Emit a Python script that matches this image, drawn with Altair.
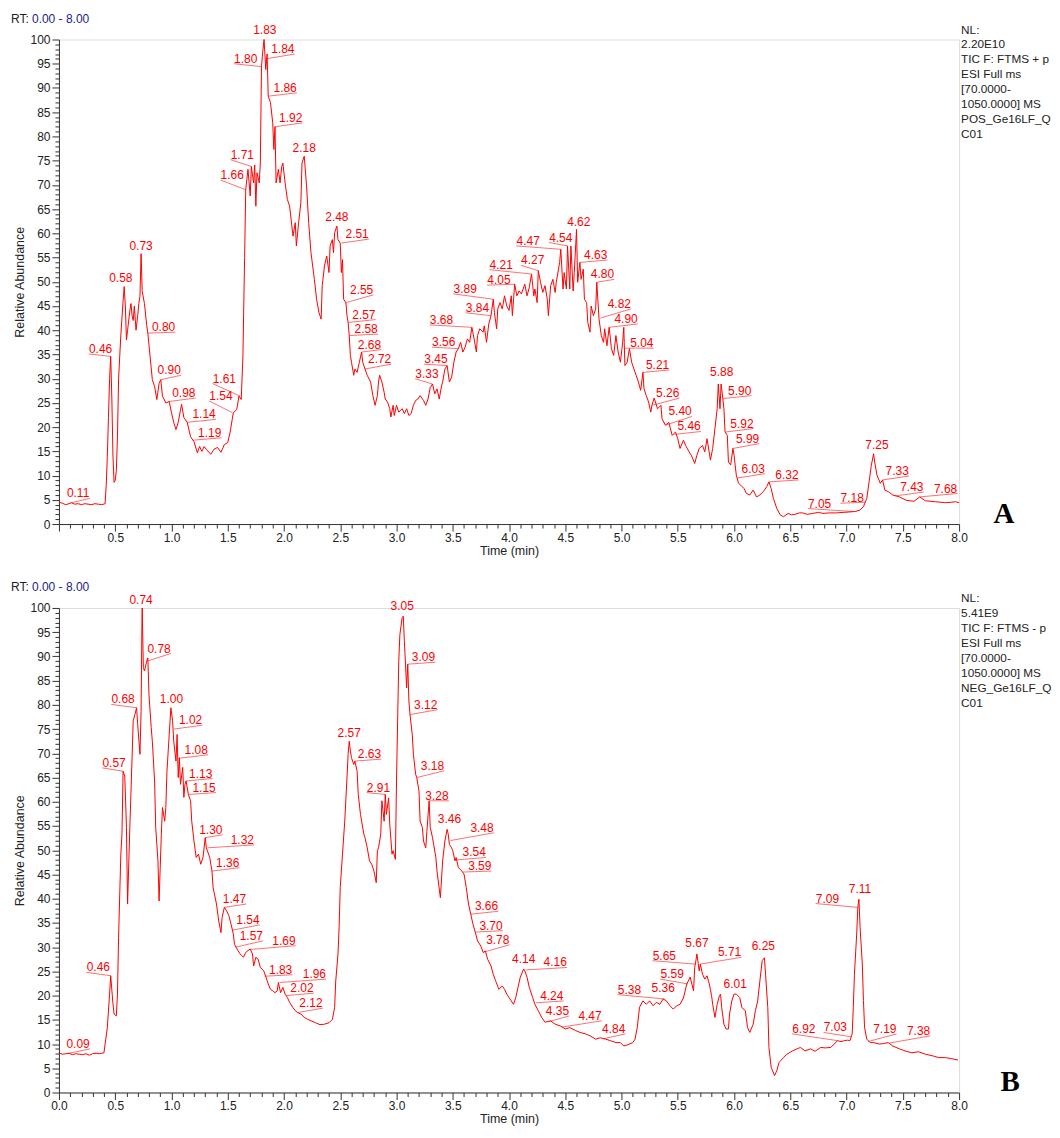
import altair as alt
import pandas as pd

# ---------------- Panel A (positive mode) trace ----------------
A_time = [0.00, 0.03, 0.06, 0.09, 0.11, 0.14, 0.17, 0.20, 0.23, 0.26, 0.29, 0.32, 0.35, 0.38, 0.41,
          0.42, 0.43, 0.44, 0.45, 0.46, 0.47, 0.48, 0.49, 0.50, 0.51, 0.52, 0.53, 0.55, 0.57, 0.58,
          0.59, 0.60, 0.61, 0.63, 0.64, 0.65, 0.66, 0.67, 0.685, 0.70, 0.71, 0.72, 0.73, 0.74, 0.76,
          0.78, 0.79, 0.81, 0.83, 0.85, 0.87, 0.89, 0.905, 0.92, 0.95, 0.98, 1.00, 1.02, 1.04, 1.06,
          1.08, 1.09, 1.11, 1.14, 1.17, 1.20, 1.23, 1.25, 1.27, 1.29, 1.31, 1.35, 1.38, 1.41, 1.44,
          1.47, 1.50, 1.52, 1.54, 1.55, 1.58, 1.60, 1.62, 1.635, 1.65, 1.66, 1.68, 1.70, 1.71, 1.73,
          1.74, 1.75, 1.76, 1.78, 1.79, 1.80, 1.81, 1.823, 1.838, 1.85, 1.86, 1.88, 1.90, 1.91, 1.92,
          1.93, 1.95, 1.965, 1.98, 1.99, 2.01, 2.03, 2.05, 2.07, 2.08, 2.10, 2.11, 2.13, 2.15, 2.16,
          2.18, 2.20, 2.22, 2.24, 2.27, 2.29, 2.31, 2.33, 2.34, 2.36, 2.38, 2.40, 2.41, 2.43, 2.44,
          2.45, 2.47, 2.48, 2.50, 2.51, 2.52, 2.53, 2.55, 2.56, 2.57, 2.58, 2.59, 2.60, 2.62, 2.63,
          2.65, 2.67, 2.69, 2.70, 2.72, 2.74, 2.77, 2.79, 2.81, 2.83, 2.84, 2.85, 2.87, 2.89, 2.90,
          2.92, 2.94, 2.95, 2.97, 2.98, 3.00, 3.02, 3.05, 3.07, 3.09, 3.11, 3.13, 3.15, 3.17, 3.19,
          3.21, 3.24, 3.26, 3.28, 3.30, 3.32, 3.34, 3.36, 3.38, 3.40, 3.41, 3.43, 3.45, 3.47, 3.49,
          3.51, 3.53, 3.55, 3.57, 3.59, 3.61, 3.63, 3.65, 3.67, 3.69, 3.71, 3.72, 3.74, 3.77, 3.78,
          3.80, 3.82, 3.84, 3.86, 3.87, 3.89, 3.90, 3.92, 3.94, 3.96, 3.98, 4.00, 4.02, 4.03, 4.05,
          4.07, 4.09, 4.11, 4.14, 4.16, 4.18, 4.20, 4.22, 4.23, 4.25, 4.26, 4.28, 4.30, 4.32, 4.34,
          4.35, 4.37, 4.39, 4.41, 4.42, 4.45, 4.46, 4.48, 4.49, 4.51, 4.52, 4.54, 4.55, 4.57, 4.58,
          4.60, 4.61, 4.63, 4.64, 4.66, 4.67, 4.69, 4.70, 4.72, 4.73, 4.75, 4.77, 4.78, 4.80, 4.82,
          4.84, 4.85, 4.87, 4.89, 4.91, 4.93, 4.95, 4.97, 4.99, 5.01, 5.02, 5.03, 5.05, 5.07, 5.09,
          5.11, 5.13, 5.15, 5.17, 5.19, 5.20, 5.22, 5.24, 5.26, 5.27, 5.29, 5.32, 5.35, 5.36, 5.39,
          5.42, 5.45, 5.48, 5.50, 5.52, 5.55, 5.57, 5.60, 5.62, 5.65, 5.67, 5.69, 5.72, 5.74, 5.76,
          5.79, 5.81, 5.83, 5.85, 5.86, 5.875, 5.885, 5.90, 5.91, 5.92, 5.94, 5.95, 5.97, 5.99, 6.00,
          6.02, 6.04, 6.06, 6.09, 6.11, 6.14, 6.17, 6.20, 6.23, 6.26, 6.29, 6.31, 6.33, 6.35, 6.38,
          6.41, 6.44, 6.48, 6.51, 6.54, 6.58, 6.61, 6.65, 6.70, 6.75, 6.79, 6.85, 6.91, 6.97, 7.03,
          7.08, 7.12, 7.15, 7.18, 7.20, 7.22, 7.24, 7.25, 7.27, 7.30, 7.32, 7.34, 7.37, 7.41, 7.44,
          7.47, 7.53, 7.60, 7.65, 7.70, 7.75, 7.79, 7.84, 7.88, 7.93, 7.97, 8.00]
A_abund = [4.5, 4.3, 4.0, 4.2, 4.4, 4.1, 4.2, 4.0, 4.2, 4.1, 4.0, 4.2, 4.1, 4.0, 4.2,
           8.0, 14.0, 22.0, 30.0, 34.6, 26.0, 14.0, 8.6, 9.0, 11.0, 18.0, 30.0, 39.0, 46.0, 49.0,
           45.0, 38.0, 40.0, 44.0, 45.5, 43.0, 42.0, 45.0, 40.0, 43.0, 45.5, 47.0, 55.8, 48.0, 45.5,
           41.0, 39.4, 34.6, 29.8, 28.4, 25.7, 29.0, 29.8, 26.4, 25.0, 25.3, 23.0, 21.0, 19.5, 21.0,
           23.5, 24.7, 22.0, 21.0, 18.0, 17.0, 14.7, 16.0, 15.0, 16.0, 15.4, 14.4, 15.5, 15.8, 14.8,
           16.4, 16.8, 18.8, 21.6, 23.0, 23.6, 26.4, 25.7, 34.6, 55.0, 69.0, 73.2, 67.7, 73.8, 70.4,
           74.1, 65.6, 72.5, 70.4, 74.5, 94.4, 97.2, 100.0, 93.8, 97.0, 88.3, 87.0, 82.8, 77.3, 82.0,
           70.4, 73.2, 70.4, 73.8, 74.5, 70.4, 67.0, 65.6, 61.5, 59.4, 62.2, 57.4, 62.2, 66.3, 74.5,
           75.9, 70.0, 62.0, 56.0, 50.5, 46.4, 43.7, 42.3, 49.2, 53.3, 55.3, 51.9, 57.4, 58.7, 56.0,
           60.1, 61.5, 58.7, 58.0, 51.9, 54.6, 46.4, 45.7, 43.0, 41.6, 38.9, 34.8, 33.4, 30.7, 32.0,
           31.3, 33.4, 35.5, 33.4, 32.0, 30.7, 29.3, 26.5, 24.5, 26.5, 29.3, 30.7, 29.3, 27.2, 25.8,
           25.2, 23.8, 22.1, 24.5, 22.4, 24.5, 23.1, 23.8, 22.8, 23.8, 22.4, 22.8, 24.5, 25.5, 25.8,
           26.5, 25.5, 24.5, 25.8, 28.2, 28.9, 26.9, 27.9, 25.8, 28.5, 29.3, 32.0, 32.7, 29.3, 30.3,
           33.4, 35.5, 36.2, 37.5, 35.5, 36.5, 38.2, 37.5, 40.6, 38.2, 35.5, 38.9, 40.3, 39.6, 40.9,
           37.5, 41.3, 43.0, 46.4, 43.7, 40.3, 44.4, 45.7, 44.4, 47.1, 45.0, 44.1, 47.1, 43.0, 49.5,
           47.1, 48.1, 47.5, 49.5, 47.1, 48.8, 51.6, 47.1, 48.5, 45.7, 52.3, 49.9, 47.8, 49.2, 46.4,
           43.0, 49.2, 50.5, 47.8, 49.9, 54.0, 56.7, 48.5, 51.9, 48.5, 57.4, 48.5, 57.4, 48.1, 51.9,
           60.8, 49.9, 54.0, 50.5, 52.6, 46.4, 45.7, 41.6, 39.6, 45.0, 43.0, 44.4, 49.9, 42.3, 38.9,
           37.5, 40.3, 36.8, 40.6, 36.2, 34.8, 38.9, 35.5, 33.4, 37.5, 40.6, 32.7, 33.4, 36.2, 33.4,
           32.0, 30.7, 29.3, 27.6, 31.3, 27.9, 26.5, 25.2, 23.1, 24.5, 26.0, 23.8, 24.5, 21.7, 20.4,
           21.0, 18.3, 19.0, 17.6, 15.6, 17.3, 16.2, 14.9, 14.2, 12.5, 14.2, 15.6, 16.2, 14.9, 17.6,
           13.2, 15.6, 19.7, 23.8, 28.9, 23.8, 28.9, 25.9, 23.8, 19.0, 18.3, 12.8, 12.2, 15.6, 14.2,
           10.1, 8.4, 8.0, 7.3, 6.3, 6.0, 7.0, 5.6, 6.0, 6.7, 7.7, 8.7, 7.3, 5.3, 3.2,
           1.9, 1.5, 2.2, 1.9, 2.0, 2.3, 2.3, 2.0, 2.2, 2.4, 2.2, 2.3, 2.3, 2.4, 2.5,
           2.6, 2.9, 3.6, 5.3, 8.7, 12.1, 14.5, 12.8, 10.1, 8.4, 9.1, 7.0, 6.7, 6.0, 5.8,
           5.6, 4.9, 4.7, 5.6, 4.8, 4.7, 4.6, 4.5, 4.4, 4.5, 4.6, 4.4]

# ---------------- Panel B (negative mode) trace ----------------
B_time = [0.00, 0.03, 0.06, 0.09, 0.12, 0.15, 0.18, 0.21, 0.24, 0.27, 0.30, 0.33, 0.36, 0.40, 0.43,
          0.45, 0.46, 0.48, 0.49, 0.51, 0.52, 0.53, 0.55, 0.56, 0.57, 0.585, 0.60, 0.61, 0.63, 0.65,
          0.66, 0.675, 0.69, 0.70, 0.72, 0.73, 0.737, 0.74, 0.75, 0.76, 0.78, 0.79, 0.80, 0.82, 0.83,
          0.85, 0.86, 0.88, 0.89, 0.91, 0.92, 0.94, 0.95, 0.96, 0.98, 0.995, 1.01, 1.02, 1.04, 1.05,
          1.06, 1.07, 1.08, 1.10, 1.11, 1.12, 1.13, 1.15, 1.17, 1.18, 1.20, 1.22, 1.24, 1.26, 1.28,
          1.30, 1.31, 1.34, 1.36, 1.37, 1.40, 1.42, 1.44, 1.45, 1.47, 1.49, 1.51, 1.53, 1.55, 1.56,
          1.59, 1.61, 1.64, 1.66, 1.68, 1.70, 1.72, 1.73, 1.75, 1.77, 1.79, 1.82, 1.84, 1.86, 1.88,
          1.90, 1.92, 1.94, 1.95, 1.97, 1.99, 2.01, 2.03, 2.05, 2.08, 2.10, 2.12, 2.15, 2.18, 2.21,
          2.24, 2.28, 2.32, 2.36, 2.40, 2.43, 2.45, 2.46, 2.48, 2.49, 2.50, 2.52, 2.54, 2.56, 2.57,
          2.58, 2.59, 2.60, 2.62, 2.63, 2.65, 2.66, 2.68, 2.69, 2.71, 2.72, 2.74, 2.76, 2.78, 2.80,
          2.82, 2.83, 2.84, 2.86, 2.87, 2.89, 2.90, 2.91, 2.93, 2.94, 2.96, 2.97, 2.99, 3.00, 3.02,
          3.03, 3.05, 3.06, 3.07, 3.08, 3.09, 3.10, 3.11, 3.12, 3.14, 3.15, 3.17, 3.18, 3.20, 3.21,
          3.23, 3.24, 3.26, 3.27, 3.29, 3.30, 3.32, 3.33, 3.35, 3.36, 3.38, 3.39, 3.41, 3.43, 3.45,
          3.46, 3.47, 3.49, 3.50, 3.52, 3.53, 3.55, 3.57, 3.60, 3.62, 3.64, 3.66, 3.68, 3.70, 3.72,
          3.75, 3.77, 3.79, 3.81, 3.84, 3.86, 3.88, 3.91, 3.94, 3.96, 3.98, 4.00, 4.02, 4.04, 4.06,
          4.08, 4.10, 4.13, 4.14, 4.16, 4.18, 4.21, 4.23, 4.26, 4.29, 4.32, 4.37, 4.41, 4.46, 4.50,
          4.54, 4.59, 4.63, 4.68, 4.72, 4.77, 4.81, 4.86, 4.90, 4.95, 4.99, 5.02, 5.05, 5.10, 5.12,
          5.14, 5.16, 5.19, 5.22, 5.25, 5.28, 5.31, 5.34, 5.37, 5.40, 5.43, 5.46, 5.49, 5.52, 5.55,
          5.58, 5.61, 5.64, 5.65, 5.66, 5.67, 5.69, 5.70, 5.72, 5.74, 5.76, 5.78, 5.80, 5.81, 5.83,
          5.85, 5.87, 5.88, 5.89, 5.91, 5.93, 5.95, 5.96, 5.98, 6.00, 6.02, 6.05, 6.07, 6.10, 6.12,
          6.14, 6.17, 6.19, 6.21, 6.23, 6.25, 6.27, 6.28, 6.30, 6.31, 6.33, 6.36, 6.38, 6.40, 6.44,
          6.47, 6.52, 6.56, 6.59, 6.63, 6.68, 6.72, 6.77, 6.81, 6.86, 6.89, 6.92, 6.95, 6.98, 7.01,
          7.03, 7.05, 7.06, 7.07, 7.09, 7.10, 7.11, 7.12, 7.14, 7.15, 7.16, 7.18, 7.21, 7.24, 7.29,
          7.33, 7.37, 7.41, 7.47, 7.53, 7.58, 7.64, 7.70, 7.76, 7.82, 7.88, 7.93, 7.99]
B_abund = [8.2, 7.9, 8.0, 8.1, 7.8, 8.0, 7.9, 7.8, 8.0, 7.7, 8.0, 8.1, 8.0, 8.2, 13.4,
           20.3, 24.1, 18.3, 16.2, 15.8, 20.3, 32.0, 49.2, 53.3, 66.3, 65.3, 54.7, 38.9, 54.7, 69.1,
           76.7, 78.0, 79.4, 75.9, 69.8, 78.7, 95.9, 100.0, 87.7, 87.0, 89.0, 89.7, 82.2, 75.3, 72.5,
           64.3, 54.7, 47.8, 39.5, 53.3, 58.8, 56.0, 58.8, 66.3, 73.9, 79.4, 76.7, 72.5, 68.4, 73.9,
           65.0, 69.1, 63.6, 67.1, 60.9, 63.6, 64.3, 61.5, 60.2, 56.0, 51.9, 48.5, 49.2, 47.1, 48.5,
           52.6, 50.5, 48.5, 45.7, 42.3, 38.9, 35.4, 33.0, 36.1, 38.2, 37.5, 36.5, 34.7, 32.7, 30.6,
           29.3, 28.6, 27.9, 28.9, 29.3, 29.6, 28.6, 26.1, 27.9, 27.5, 25.8, 25.1, 23.8, 22.4, 21.3,
           21.0, 20.6, 21.0, 22.7, 20.6, 21.7, 20.3, 19.6, 18.6, 17.5, 16.9, 16.5, 16.2, 15.5, 15.1,
           14.8, 14.4, 14.0, 14.1, 14.4, 15.1, 17.5, 23.0, 28.6, 34.1, 42.3, 49.2, 56.0, 65.0, 69.8,
           72.5, 70.5, 69.1, 67.7, 68.4, 66.3, 61.5, 57.4, 56.0, 53.3, 52.6, 50.5, 47.8, 47.1, 45.7,
           43.3, 49.9, 50.5, 53.3, 60.2, 56.0, 61.5, 57.4, 60.8, 55.4, 49.2, 49.9, 48.1, 64.3, 89.0,
           94.5, 98.0, 98.3, 93.1, 88.4, 83.5, 88.4, 80.8, 78.0, 73.9, 69.8, 65.7, 65.0, 62.2, 56.0,
           54.7, 51.9, 50.5, 53.9, 60.2, 54.7, 52.6, 51.2, 48.5, 45.7, 42.0, 40.2, 47.8, 51.9, 54.3,
           53.3, 51.2, 50.5, 49.9, 47.8, 48.5, 46.4, 46.0, 45.1, 42.3, 38.9, 36.8, 34.7, 33.1, 31.3,
           30.2, 28.9, 29.2, 27.5, 26.1, 24.4, 23.1, 21.3, 22.0, 21.3, 20.3, 19.6, 18.9, 18.2, 19.6,
           21.7, 23.8, 25.5, 25.1, 23.8, 21.7, 19.6, 18.2, 16.9, 15.5, 14.5, 14.8, 14.1, 13.7, 13.1,
           13.4, 12.8, 12.4, 12.1, 11.7, 11.0, 11.3, 11.0, 10.7, 10.3, 10.3, 9.6, 9.8, 10.3, 11.0,
           13.4, 17.6, 18.9, 18.2, 18.9, 17.9, 18.6, 18.2, 19.3, 18.9, 17.9, 17.2, 17.9, 18.2, 19.5,
           22.4, 23.8, 21.0, 25.8, 27.1, 28.6, 25.1, 26.5, 24.4, 23.4, 24.1, 22.4, 20.0, 18.2, 15.5,
           18.2, 20.0, 20.3, 17.5, 14.1, 13.1, 13.1, 16.2, 18.9, 20.3, 20.3, 19.6, 17.5, 16.9, 13.4,
           12.4, 14.1, 16.9, 18.9, 23.1, 27.2, 27.8, 24.4, 17.5, 9.3, 5.2, 3.5, 4.5, 6.2, 7.2,
           7.9, 8.6, 9.0, 9.3, 8.6, 9.0, 8.5, 9.3, 9.2, 9.3, 10.0, 10.7, 10.5, 10.7, 10.8,
           10.7, 12.1, 17.6, 24.4, 32.7, 38.2, 39.9, 34.1, 26.5, 19.0, 13.4, 11.0, 10.3, 10.3, 10.0,
           10.1, 10.3, 9.6, 9.0, 8.5, 8.2, 8.4, 7.9, 7.6, 7.2, 7.2, 7.0, 6.7]

# ---------------- Peak annotations: text, peak (time, abundance), label anchor (time, abundance) ----------------
A_lab_text = ["0.11", "0.46", "0.58", "0.73", "0.80", "0.90", "0.98", "1.14", "1.19", "1.54", "1.61",
              "1.66", "1.71", "1.80", "1.83", "1.84", "1.86", "1.92", "2.18", "2.48", "2.51", "2.55",
              "2.57", "2.58", "2.68", "2.72", "3.33", "3.45", "3.56", "3.68", "3.84", "3.89", "4.05",
              "4.21", "4.27", "4.47", "4.54", "4.62", "4.63", "4.80", "4.82", "4.90", "5.04", "5.21",
              "5.26", "5.40", "5.46", "5.88", "5.90", "5.92", "5.99", "6.03", "6.32", "7.05", "7.18",
              "7.25", "7.33", "7.43", "7.68"]
A_peak_t = [0.11, 0.46, 0.58, 0.73, 0.79, 0.905, 0.98, 1.14, 1.19, 1.54, 1.61,
            1.66, 1.71, 1.80, 1.823, 1.838, 1.86, 1.92, 2.18, 2.47, 2.51, 2.55,
            2.57, 2.58, 2.69, 2.72, 3.32, 3.45, 3.55, 3.67, 3.84, 3.86, 4.05,
            4.20, 4.26, 4.46, 4.52, 4.60, 4.63, 4.78, 4.81, 4.89, 5.02, 5.19,
            5.27, 5.39, 5.47, 5.88, 5.90, 5.925, 5.99, 6.03, 6.31, 7.05, 7.17,
            7.24, 7.32, 7.43, 7.65]
A_peak_v = [4.4, 34.6, 49.0, 55.8, 39.4, 29.8, 25.3, 21.0, 17.3, 23.0, 26.4,
            69.0, 73.8, 94.4, 100.0, 96.0, 88.3, 82.0, 75.9, 61.5, 58.0, 45.7,
            41.6, 38.9, 35.5, 32.0, 28.9, 32.7, 36.2, 40.6, 43.0, 46.4, 49.5,
            51.6, 52.3, 56.7, 57.4, 60.8, 54.0, 49.9, 42.5, 40.6, 36.3, 31.3,
            24.5, 20.4, 18.5, 28.9, 25.9, 19.0, 15.6, 9.5, 8.7, 2.6, 4.5,
            14.5, 9.1, 5.8, 5.6]
A_lab_t = [0.17, 0.37, 0.55, 0.73, 0.93, 0.98, 1.11, 1.29, 1.34, 1.44, 1.47,
           1.54, 1.63, 1.66, 1.83, 1.99, 2.01, 2.06, 2.18, 2.47, 2.65, 2.69,
           2.71, 2.73, 2.76, 2.85, 3.27, 3.35, 3.42, 3.40, 3.72, 3.61, 3.91,
           3.93, 4.21, 4.17, 4.46, 4.62, 4.77, 4.83, 4.98, 5.04, 5.18, 5.32,
           5.41, 5.52, 5.60, 5.89, 6.05, 6.07, 6.12, 6.17, 6.47, 6.76, 7.05,
           7.27, 7.45, 7.58, 7.88]
A_lab_v = [5.3, 35.1, 49.7, 56.4, 39.6, 30.7, 26.0, 21.6, 17.8, 25.4, 29.0,
           71.0, 75.2, 95.0, 101.0, 97.0, 89.0, 82.8, 76.5, 62.3, 58.8, 47.3,
           42.2, 39.2, 36.0, 33.0, 30.0, 33.0, 36.5, 41.1, 43.6, 47.5, 49.3,
           52.5, 53.4, 57.4, 58.1, 61.4, 54.5, 50.5, 44.4, 41.3, 36.3, 31.8,
           26.0, 22.2, 19.1, 30.3, 26.5, 19.7, 16.6, 10.4, 9.1, 3.2, 4.3,
           15.2, 9.9, 6.6, 6.3]

B_lab_text = ["0.09", "0.46", "0.57", "0.68", "0.74", "0.78", "1.00", "1.02", "1.08", "1.13", "1.15",
              "1.30", "1.32", "1.36", "1.47", "1.54", "1.57", "1.69", "1.83", "1.96", "2.02", "2.12",
              "2.57", "2.63", "2.91", "3.05", "3.09", "3.12", "3.18", "3.28", "3.46", "3.48", "3.54",
              "3.59", "3.66", "3.70", "3.78", "4.14", "4.16", "4.24", "4.35", "4.47", "4.84", "5.38",
              "5.36", "5.59", "5.65", "5.67", "5.71", "6.01", "6.25", "6.92", "7.03", "7.09", "7.11",
              "7.19", "7.38"]
B_peak_t = [0.09, 0.46, 0.57, 0.69, 0.74, 0.78, 0.995, 1.02, 1.075, 1.13, 1.15,
            1.30, 1.32, 1.36, 1.47, 1.54, 1.57, 1.69, 1.83, 1.96, 2.02, 2.12,
            2.58, 2.63, 2.90, 3.05, 3.10, 3.12, 3.18, 3.29, 3.45, 3.48, 3.53,
            3.59, 3.66, 3.70, 3.78, 4.13, 4.15, 4.24, 4.35, 4.47, 4.84, 5.38,
            5.36, 5.59, 5.655, 5.67, 5.70, 6.01, 6.26, 6.92, 7.04, 7.10, 7.11,
            7.19, 7.38]
B_peak_v = [8.1, 24.1, 66.3, 79.4, 100.0, 89.0, 79.4, 75.0, 69.0, 64.3, 61.5,
            52.6, 50.5, 45.7, 38.2, 33.5, 30.0, 29.5, 24.0, 22.7, 20.0, 16.5,
            72.5, 68.4, 61.5, 98.3, 88.4, 78.0, 65.0, 60.2, 54.3, 52.0, 48.0,
            45.5, 36.8, 33.1, 29.0, 25.5, 25.3, 18.5, 14.6, 13.5, 11.1, 19.3,
            19.5, 22.4, 26.5, 28.6, 26.5, 20.3, 27.8, 10.7, 11.5, 38.2, 39.9,
            10.5, 10.2]
B_lab_t = [0.17, 0.35, 0.49, 0.57, 0.73, 0.89, 1.00, 1.17, 1.22, 1.26, 1.29,
           1.35, 1.63, 1.50, 1.56, 1.68, 1.71, 2.00, 1.97, 2.27, 2.16, 2.24,
           2.58, 2.76, 2.84, 3.05, 3.24, 3.26, 3.32, 3.36, 3.47, 3.76, 3.69,
           3.74, 3.80, 3.84, 3.90, 4.13, 4.41, 4.38, 4.43, 4.72, 4.93, 5.07,
           5.37, 5.45, 5.38, 5.67, 5.96, 6.01, 6.26, 6.62, 6.90, 6.83, 7.12,
           7.34, 7.64]
B_lab_v = [9.0, 24.8, 67.0, 80.1, 100.7, 90.6, 80.2, 75.8, 69.7, 64.8, 61.9,
           53.2, 51.1, 46.4, 38.9, 34.6, 31.3, 30.3, 24.3, 23.4, 20.5, 17.4,
           73.1, 68.8, 61.9, 99.3, 88.8, 79.0, 66.4, 60.2, 55.4, 53.6, 48.5,
           45.7, 37.4, 33.4, 30.5, 26.5, 25.8, 18.9, 15.8, 14.8, 12.1, 20.2,
           20.5, 23.4, 27.2, 29.9, 27.9, 21.3, 29.1, 12.1, 12.4, 39.0, 40.9,
           12.1, 11.7]

# ---------------- Header / info texts ----------------
RT_prefix = "RT:"
RT_range = "0.00 - 8.00"
A_info = ["NL:", "2.20E10", "TIC F: FTMS + p", "ESI Full ms", "[70.0000-", "1050.0000]  MS",
          "POS_Ge16LF_Q", "C01"]
B_info = ["NL:", "5.41E9", "TIC F: FTMS - p", "ESI Full ms", "[70.0000-", "1050.0000]  MS",
          "NEG_Ge16LF_Q", "C01"]

x_tick_values = [round(i * 0.1, 1) for i in range(0, 81)]
y_tick_values = list(range(0, 101))

W, H = 901, 485
SANS = "Liberation Sans, Arial, Helvetica, sans-serif"
RED = "#ff0000"
AXIS_COLOR = "#333333"


def make_panel(times, abund, lab_text, peak_t, peak_v, lab_t, lab_v, info, letter, letter_dx, hide_zero):
    trace = pd.DataFrame({"t": times, "v": abund, "i": list(range(len(times)))})
    labs = pd.DataFrame({"text": lab_text, "pt": peak_t, "pv": peak_v, "lt": lab_t, "lv": lab_v})

    major_x = "abs(datum.value * 2 - round(datum.value * 2)) < 0.001"
    if hide_zero:
        x_label_expr = f"(datum.value > 0.05 && {major_x}) ? format(datum.value, '.1f') : ''"
    else:
        x_label_expr = f"{major_x} ? format(datum.value, '.1f') : ''"
    major_y = "datum.value % 5 == 0"

    xaxis = alt.Axis(values=x_tick_values, labelExpr=x_label_expr, grid=False,
                     tickSize={"condition": {"test": major_x, "value": 7}, "value": 4},
                     labelOverlap=False, labelFlush=False, labelPadding=1,
                     labelFont=SANS, labelFontSize=12, labelColor="#222222",
                     domainColor=AXIS_COLOR, tickColor=AXIS_COLOR,
                     titleFont=SANS, titleFontSize=12.5, titleFontWeight="normal",
                     titleColor="#222222", titlePadding=1)
    yaxis = alt.Axis(values=y_tick_values, labelExpr=f"{major_y} ? datum.value : ''", grid=False,
                     tickSize={"condition": {"test": major_y, "value": 7}, "value": 4},
                     labelOverlap=False, labelFlush=False, labelPadding=2,
                     labelFont=SANS, labelFontSize=12, labelColor="#222222",
                     domainColor=AXIS_COLOR, tickColor=AXIS_COLOR,
                     titleFont=SANS, titleFontSize=12.5, titleFontWeight="normal",
                     titleColor="#222222", titlePadding=3)
    xs = alt.Scale(domain=[0, 8], nice=False, zero=False)
    ys = alt.Scale(domain=[0, 100], nice=False)

    line = alt.Chart(trace).mark_line(color=RED, strokeWidth=1).encode(
        x=alt.X("t:Q", scale=xs, axis=xaxis, title="Time (min)"),
        y=alt.Y("v:Q", scale=ys, axis=yaxis, title="Relative Abundance"),
        order="i:Q",
    )
    leaders = alt.Chart(labs).transform_filter(
        "abs(datum.lt - datum.pt) >= 0.03"
    ).transform_calculate(
        ex="datum.lt + (datum.lt > datum.pt ? 0.105 : -0.105)"
    ).mark_rule(color=RED, strokeWidth=0.8, opacity=0.7).encode(
        x=alt.X("pt:Q", scale=xs, axis=xaxis, title="Time (min)"),
        y=alt.Y("pv:Q", scale=ys, axis=yaxis, title="Relative Abundance"),
        x2="ex:Q", y2="lv:Q",
    )
    texts = alt.Chart(labs).mark_text(
        color=RED, font=SANS, fontSize=12, baseline="alphabetic", align="center", dy=-1
    ).encode(
        x=alt.X("lt:Q", scale=xs, axis=xaxis, title="Time (min)"),
        y=alt.Y("lv:Q", scale=ys, axis=yaxis, title="Relative Abundance"),
        text="text:N",
    )
    rt1 = alt.Chart(pd.DataFrame({"s": [RT_prefix]})).mark_text(
        font=SANS, fontSize=12, color="#222222", align="left", baseline="middle"
    ).encode(x=alt.value(-48), y=alt.value(-21), text="s:N")
    rt2 = alt.Chart(pd.DataFrame({"s": [RT_range]})).mark_text(
        font=SANS, fontSize=12, color="#1c1c8c", align="left", baseline="middle"
    ).encode(x=alt.value(-27), y=alt.value(-21), text="s:N")
    nl = alt.Chart(pd.DataFrame({"s": ["\n".join(info)]})).mark_text(
        font=SANS, fontSize=11.8, color="#222222", align="left", baseline="top",
        lineBreak="\n", lineHeight=15
    ).encode(x=alt.value(W + 2), y=alt.value(-15), text="s:N")
    let = alt.Chart(pd.DataFrame({"s": [letter]})).mark_text(
        font="Liberation Serif, Times New Roman, serif", fontSize=29, fontWeight="bold",
        color="#000000", align="center", baseline="alphabetic"
    ).encode(x=alt.value(W + letter_dx), y=alt.value(H - 1), text="s:N")

    return alt.layer(line, leaders, texts, rt1, rt2, nl, let).properties(width=W, height=H)


panel_a = make_panel(A_time, A_abund, A_lab_text, A_peak_t, A_peak_v, A_lab_t, A_lab_v,
                     A_info, "A", 45, True)
panel_b = make_panel(B_time, B_abund, B_lab_text, B_peak_t, B_peak_v, B_lab_t, B_lab_v,
                     B_info, "B", 51, False)

chart = alt.vconcat(panel_a, panel_b, spacing=84, bounds="flush").properties(
    padding={"left": 2, "top": 3, "right": 0, "bottom": 0}
).configure_view(stroke=None).configure(background="white")

chart.save("out.html", embed_options={"renderer": "svg", "actions": False})
